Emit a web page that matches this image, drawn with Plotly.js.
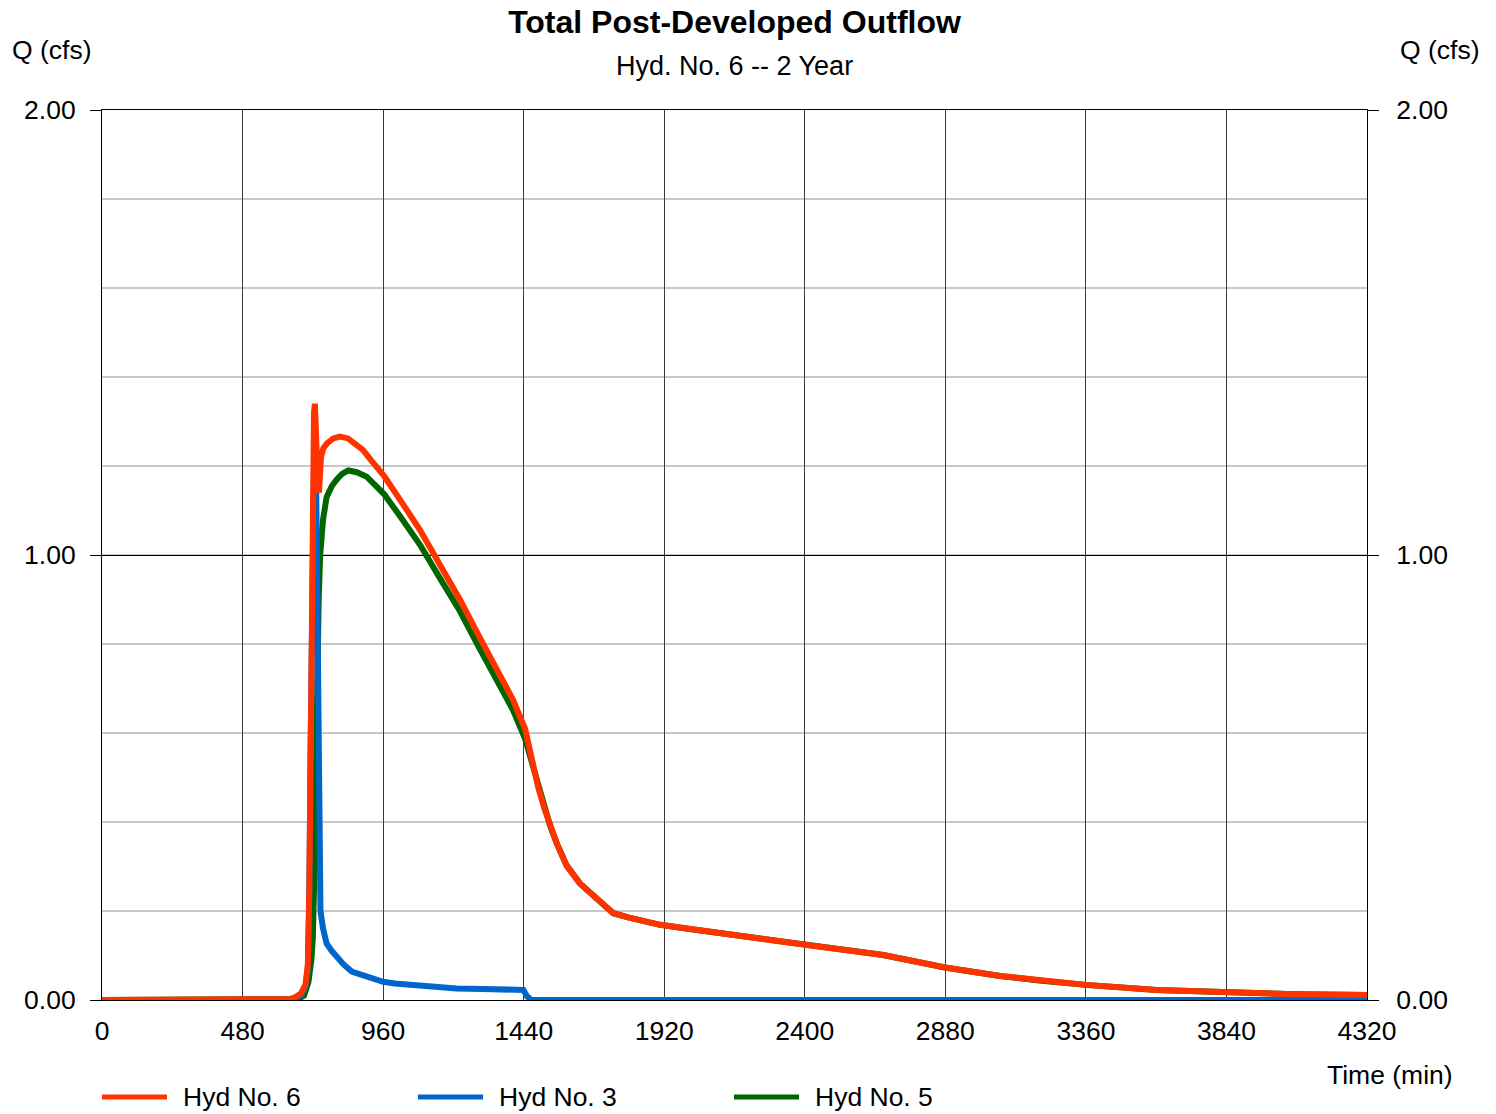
<!DOCTYPE html>
<html>
<head>
<meta charset="utf-8">
<script src="https://cdn.plot.ly/plotly-3.0.1.min.js"></script>
<style>
  html, body { margin: 0; padding: 0; background: #ffffff; }
  #chart { width: 1496px; height: 1114px; }
</style>
</head>
<body>
<div id="chart"></div>
<script>
// Hydrograph series: time in minutes, flow Q in cfs
const seriesNames = ['Hyd No. 6', 'Hyd No. 3', 'Hyd No. 5'];

// Hyd No. 6 - combined outflow
const hyd6Time = [0, 600, 640, 660, 680, 695, 703, 708, 712, 716, 720, 724, 727, 729, 731, 733, 735, 738, 741, 744, 748, 756, 770, 790, 813, 840, 870, 891, 920, 963, 1018, 1086, 1154, 1223, 1291, 1359, 1404, 1445, 1470, 1490, 1510, 1530, 1553, 1587, 1632, 1746, 1800, 1906, 2000, 2160, 2401, 2668, 2879, 3067, 3200, 3360, 3602, 3841, 4080, 4320];
const hyd6Flow = [0, 0, 0.002, 0.006, 0.015, 0.035, 0.08, 0.25, 0.6, 0.95, 1.2, 1.32, 1.34, 1.3, 1.22, 1.28, 1.22, 1.15, 1.14, 1.19, 1.22, 1.24, 1.252, 1.262, 1.266, 1.262, 1.245, 1.236, 1.212, 1.178, 1.124, 1.056, 0.978, 0.899, 0.813, 0.730, 0.674, 0.609, 0.53, 0.477, 0.432, 0.392, 0.352, 0.302, 0.262, 0.195, 0.185, 0.169, 0.160, 0.146, 0.124, 0.101, 0.073, 0.054, 0.044, 0.034, 0.0225, 0.0165, 0.013, 0.011];

// Hyd No. 3 - direct runoff
const hyd3Time = [0, 640, 680, 695, 703, 708, 712, 716, 720, 724, 728, 731, 734, 737, 740, 743, 746, 755, 767, 785, 801, 825, 853, 900, 960, 1000, 1100, 1211, 1300, 1439, 1452, 1467, 4320];
const hyd3Flow = [0, 0, 0.01, 0.03, 0.07, 0.23, 0.55, 0.88, 1.1, 1.2, 1.2, 1.17, 1.0, 0.7, 0.45, 0.28, 0.2, 0.16, 0.127, 0.11, 0.097, 0.08, 0.064, 0.053, 0.041, 0.037, 0.032, 0.026, 0.025, 0.0225, 0.008, 0, 0];

// Hyd No. 5 - routed outflow
const hyd5Time = [0, 640, 670, 690, 705, 715, 720, 724, 728, 732, 736, 740, 745, 755, 767, 785, 801, 820, 841, 870, 904, 930, 963, 1018, 1086, 1154, 1223, 1291, 1359, 1404, 1445, 1470, 1490, 1510, 1530, 1553, 1587, 1632, 1746, 1800, 1906, 2000, 2160, 2401, 2668, 2879, 3067, 3200, 3360, 3602, 3841, 4080, 4320];
const hyd5Flow = [0, 0, 0.002, 0.01, 0.04, 0.09, 0.14, 0.25, 0.45, 0.65, 0.8, 0.9, 1.0, 1.08, 1.13, 1.155, 1.169, 1.182, 1.19, 1.186, 1.176, 1.16, 1.137, 1.087, 1.023, 0.948, 0.873, 0.788, 0.706, 0.651, 0.587, 0.53, 0.477, 0.432, 0.392, 0.352, 0.302, 0.262, 0.195, 0.185, 0.169, 0.160, 0.146, 0.124, 0.101, 0.073, 0.054, 0.044, 0.034, 0.0225, 0.0165, 0.013, 0.011];

// Axis ticks
const timeTicks = [0, 480, 960, 1440, 1920, 2400, 2880, 3360, 3840, 4320];
const flowTicks = [0, 1, 2];
const flowTickText = ['0.00', '1.00', '2.00'];

const COLORS = { hyd6: '#ff3300', hyd3: '#0066cc', hyd5: '#006600' };
const FONT = '"Liberation Sans", Arial, sans-serif';
const TXT = 26.5;

const lineStyle = (c) => ({ color: c, width: 6, shape: 'linear' });

// routed and runoff on the left axis; combined outflow on the right axis (same scale) so it sits on top
const traces = [
  { x: hyd5Time, y: hyd5Flow, name: seriesNames[2], mode: 'lines', line: lineStyle(COLORS.hyd5), hoverinfo: 'x+y' },
  { x: hyd3Time, y: hyd3Flow, name: seriesNames[1], mode: 'lines', line: lineStyle(COLORS.hyd3), hoverinfo: 'x+y' },
  { x: hyd6Time, y: hyd6Flow, name: seriesNames[0], mode: 'lines', line: lineStyle(COLORS.hyd6), hoverinfo: 'x+y', yaxis: 'y2' }
];

// legend built from shapes + annotations along the bottom
const legendItems = [
  { name: seriesNames[0], color: COLORS.hyd6, x0: 0.0 },
  { name: seriesNames[1], color: COLORS.hyd3, x0: 0.2498 },
  { name: seriesNames[2], color: COLORS.hyd5, x0: 0.4996 }
];
const legendY = -0.109;
const shapes = legendItems.map(it => ({
  type: 'line', xref: 'paper', yref: 'paper',
  x0: it.x0, x1: it.x0 + 0.0514, y0: legendY, y1: legendY,
  line: { color: it.color, width: 5 }
}));

const annotations = [
  { text: 'Hyd. No. 6 -- 2 Year', xref: 'paper', yref: 'paper', x: 0.5, y: 1.0494, xanchor: 'center', yanchor: 'middle', showarrow: false, font: { size: 27, color: '#000' } },
  { text: 'Q (cfs)', xref: 'paper', yref: 'paper', x: -0.0727, y: 1.0674, xanchor: 'left', yanchor: 'middle', showarrow: false, font: { size: TXT, color: '#000' } },
  { text: 'Q (cfs)', xref: 'paper', yref: 'paper', x: 1.0245, y: 1.0674, xanchor: 'left', yanchor: 'middle', showarrow: false, font: { size: TXT, color: '#000' } },
  { text: 'Time (min)', xref: 'paper', yref: 'paper', x: 1.0696, y: -0.0843, xanchor: 'right', yanchor: 'middle', showarrow: false, font: { size: TXT, color: '#000' } }
].concat(legendItems.map(it => ({
  text: it.name, xref: 'paper', yref: 'paper', x: it.x0 + 0.0625, y: legendY,
  xanchor: 'left', yanchor: 'middle', showarrow: false, font: { size: TXT, color: '#000' }
})));

const layout = {
  width: 1496,
  height: 1114,
  margin: { l: 102, r: 129, t: 110, b: 114, pad: 0 },
  paper_bgcolor: '#ffffff',
  plot_bgcolor: '#ffffff',
  font: { family: FONT, size: TXT, color: '#000' },
  showlegend: false,
  title: {
    text: '<b>Total Post-Developed Outflow</b>',
    x: 0.5, xref: 'paper', xanchor: 'center',
    y: 1 - 22 / 1114, yref: 'container', yanchor: 'middle',
    font: { family: FONT, size: 32, color: '#000' }
  },
  xaxis: {
    range: [0, 4320],
    tickvals: timeTicks,
    ticktext: timeTicks.map(String),
    ticks: '',
    ticklabelstandoff: 7,
    showgrid: true, gridcolor: '#3a3a3a', gridwidth: 1,
    zeroline: false,
    showline: true, linecolor: '#000', linewidth: 1, mirror: true,
    tickfont: { size: TXT },
    fixedrange: true
  },
  yaxis: {
    range: [0, 2],
    tickvals: flowTicks,
    ticktext: flowTickText,
    ticks: 'outside', ticklen: 11, tickcolor: '#000', tickwidth: 1,
    ticklabelstandoff: 9,
    showgrid: true, gridcolor: '#000', gridwidth: 1,
    minor: { dtick: 0.2, showgrid: true, gridcolor: '#c8c8c8', gridwidth: 2, ticks: '' },
    zeroline: false,
    showline: true, linecolor: '#000', linewidth: 1, mirror: true,
    tickfont: { size: TXT },
    fixedrange: true
  },
  yaxis2: {
    range: [0, 2],
    overlaying: 'y', side: 'right',
    tickvals: flowTicks,
    ticktext: flowTickText,
    ticks: 'outside', ticklen: 11, tickcolor: '#000', tickwidth: 1,
    ticklabelstandoff: 12,
    showgrid: false, zeroline: false, showline: false,
    tickfont: { size: TXT },
    fixedrange: true
  },
  shapes: shapes,
  annotations: annotations
};

Plotly.newPlot('chart', traces, layout, { staticPlot: true, displayModeBar: false });
</script>
</body>
</html>
